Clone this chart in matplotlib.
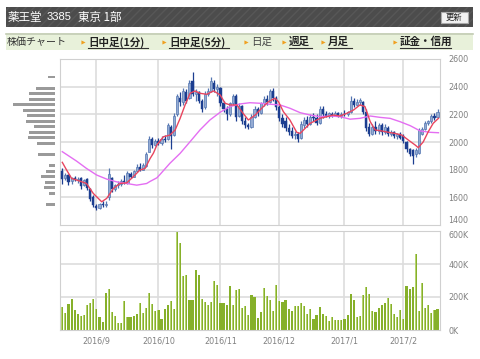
import numpy as np
import matplotlib
matplotlib.use('Agg')
import matplotlib.pyplot as plt
from matplotlib.patches import Rectangle

plt.rcParams['font.family'] = ['Noto Sans CJK JP', 'DejaVu Sans']

# --- daily candles (2016/8/17 .. 2017/2/16) ---
opens = [1790, 1740, 1760, 1715, 1740, 1725, 1740, 1690, 1730, 1660, 1600,
         1540, 1525, 1555, 1545, 1600, 1740, 1660, 1690, 1700, 1720, 1705, 1770, 1750, 1790, 1820, 1800, 1830, 1930, 2020, 1980,
         2005, 1990, 2025, 2020, 2110, 2050, 2200, 2320, 2290, 2360, 2320, 2440, 2350, 2360, 2300, 2250, 2350, 2370, 2430, 2380,
         2390, 2280, 2240, 2200, 2280, 2330, 2190, 2260, 2150, 2120, 2110, 2180, 2240, 2210, 2280, 2310, 2290, 2370, 2320,
         2250, 2170, 2150, 2100, 2080, 2050, 2060, 2030, 2120, 2160, 2130, 2180, 2170, 2140, 2240, 2200, 2190, 2205, 2190, 2210, 2190,
         2205, 2200, 2220, 2300, 2270, 2290, 2290, 2220, 2110, 2060, 2110, 2080, 2120, 2070, 2100, 2060, 2070, 2045, 2055,
         2040, 2000, 1950, 1940, 1910, 1920, 2060, 2095, 2140, 2150, 2185, 2180]
highs = [1810, 1775, 1770, 1750, 1755, 1745, 1750, 1735, 1740, 1670, 1615,
         1555, 1560, 1575, 1570, 1815, 1750, 1700, 1720, 1730, 1760, 1790, 1785, 1800, 1840, 1845, 1850, 1930, 2040, 2035, 2020,
         2030, 2040, 2050, 2140, 2120, 2210, 2350, 2360, 2390, 2380, 2450, 2505, 2380, 2370, 2310, 2370, 2390, 2470, 2450, 2420,
         2400, 2300, 2260, 2290, 2350, 2345, 2280, 2270, 2180, 2140, 2200, 2260, 2250, 2290, 2330, 2340, 2385, 2390, 2330,
         2270, 2200, 2180, 2130, 2110, 2080, 2070, 2150, 2180, 2190, 2200, 2210, 2200, 2260, 2260, 2225, 2220, 2215, 2225, 2220, 2215,
         2230, 2225, 2330, 2320, 2310, 2315, 2300, 2240, 2140, 2130, 2150, 2140, 2135, 2130, 2115, 2085, 2080, 2065, 2070,
         2060, 2010, 1960, 1950, 1960, 2100, 2105, 2150, 2160, 2200, 2210, 2235]
lows = [1700, 1725, 1690, 1700, 1715, 1705, 1660, 1680, 1650, 1570, 1530,
        1505, 1515, 1530, 1530, 1580, 1640, 1645, 1670, 1680, 1700, 1700, 1740, 1745, 1780, 1790, 1795, 1820, 1925, 1960, 1970,
        1975, 1980, 2000, 2015, 1950, 2040, 2190, 2260, 2270, 2280, 2310, 2330, 2300, 2280, 2220, 2240, 2330, 2360, 2360, 2330,
        2260, 2220, 2160, 2190, 2270, 2150, 2180, 2130, 2100, 2095, 2100, 2170, 2190, 2200, 2260, 2270, 2280, 2300, 2230,
        2150, 2110, 2080, 2050, 2030, 2020, 2000, 2020, 2100, 2110, 2120, 2150, 2120, 2130, 2170, 2180, 2175, 2180, 2185, 2180, 2175,
        2190, 2190, 2210, 2250, 2260, 2270, 2200, 2080, 2040, 2050, 2060, 2060, 2050, 2060, 2040, 2040, 2030, 2025, 2020,
        1990, 1930, 1900, 1840, 1890, 1910, 2050, 2085, 2120, 2140, 2160, 2170]
closes = [1730, 1765, 1710, 1740, 1725, 1735, 1680, 1725, 1670, 1590, 1545,
          1520, 1550, 1545, 1545, 1770, 1660, 1690, 1700, 1715, 1710, 1775, 1750, 1790, 1820, 1800, 1835, 1910, 2020, 1975, 2005,
          1990, 2025, 2015, 2120, 2040, 2190, 2330, 2290, 2370, 2300, 2430, 2350, 2360, 2300, 2240, 2350, 2370, 2440, 2380, 2400,
          2280, 2240, 2200, 2280, 2330, 2180, 2260, 2150, 2120, 2110, 2180, 2240, 2210, 2280, 2310, 2290, 2370, 2320, 2250,
          2170, 2130, 2100, 2070, 2040, 2060, 2020, 2130, 2160, 2130, 2180, 2170, 2140, 2240, 2200, 2190, 2210, 2190, 2210, 2190, 2205,
          2200, 2215, 2300, 2270, 2290, 2300, 2220, 2100, 2060, 2110, 2080, 2120, 2070, 2110, 2060, 2070, 2045, 2055, 2030,
          2005, 1950, 1915, 1900, 1945, 2090, 2095, 2140, 2150, 2190, 2175, 2220]

# volume in thousands of shares
volumes = [137, 103, 157, 185, 121, 99, 87, 93, 151, 165, 189,
           129, 79, 46, 227, 248, 109, 83, 44, 44, 173, 79, 79, 87, 95, 165, 101, 133, 227, 157, 117,
           121, 66, 129, 153, 177, 129, 596, 525, 328, 332, 181, 181, 364, 336, 187, 169, 149, 169, 298, 274,
           165, 165, 153, 266, 153, 244, 250, 135, 145, 89, 215, 203, 72, 109, 254, 207, 181, 117, 270,
           175, 167, 181, 129, 113, 147, 143, 163, 147, 97, 127, 66, 89, 139, 97, 83, 54, 79, 62, 58, 58,
           66, 93, 219, 179, 81, 83, 213, 258, 219, 117, 109, 133, 153, 165, 193, 159, 97, 81, 121,
           68, 266, 250, 262, 459, 117, 282, 133, 153, 105, 121, 129]

month_idx = [11, 31, 51, 70, 91, 110]
month_labels = ['2016/9', '2016/10', '2016/11', '2016/12', '2017/1', '2017/2']

# moving averages, sampled along the drawn lines
ma_short_x = [0, 1.4, 3, 5.7, 7.8, 10, 12.7, 14.3, 16.5, 18.6, 20.8, 22.9, 25, 26.7, 28.3, 29.4, 30.5, 32.6,
              34.7, 36.4, 38, 39.6, 41.2, 42.8, 44.4, 46.6, 48.8, 50.9, 52.5, 54.1, 56.3, 57.9, 60, 62.2,
              64.3, 66.5, 68.6, 69.7, 71.3, 73.4, 75.6, 76.7, 77.7, 78.8, 79.9, 81, 83.1, 85.3, 87.4, 89.6,
              91.7, 93.9, 96, 97.6, 99.3, 100.9, 103, 105.2, 107.3, 109.5, 111.6, 113.8, 114.8, 116.4, 118,
              119.6, 121.3]
ma_short = [1853, 1797, 1737, 1717, 1700, 1628, 1568, 1592, 1665, 1700, 1705, 1749, 1797, 1809, 1880, 1920,
            1978, 2038, 2050, 2087, 2171, 2268, 2352, 2369, 2352, 2345, 2369, 2340, 2280, 2268, 2268, 2219,
            2159, 2195, 2244, 2292, 2316, 2292, 2219, 2159, 2070, 2062, 2085, 2110, 2135, 2147, 2171, 2183,
            2195, 2188, 2207, 2231, 2268, 2256, 2147, 2087, 2080, 2070, 2062, 2050, 2014, 1978, 1959, 2001,
            2074, 2135, 2171]
ma_long_x = [0, 4.6, 7.8, 11.1, 14.3, 17.5, 20.8, 24, 27.2, 28.3, 30.5, 31.5, 34.7, 38, 41.2, 44.4, 47.6,
             50.9, 54.1, 57.3, 60.5, 63.7, 67, 70.2, 73.4, 76.7, 79.9, 83.1, 86.3, 89.6, 92.8, 96, 99.3,
             102.5, 105.7, 108.9, 112.2, 115.4, 118.6, 121.3]
ma_long = [1930, 1862, 1809, 1761, 1732, 1712, 1700, 1688, 1700, 1715, 1741, 1765, 1846, 1918, 2002, 2087,
           2159, 2215, 2256, 2275, 2284, 2280, 2273, 2268, 2244, 2212, 2195, 2183, 2188, 2183, 2165, 2171,
           2188, 2178, 2171, 2147, 2118, 2080, 2070, 2067]

# price-by-volume profile on the left
profile_prices = [2470, 2390, 2350, 2310, 2270, 2230, 2190, 2150, 2110, 2070, 2030, 1990,
                  1910, 1830, 1790, 1750, 1710, 1670, 1630, 1550]
profile_sizes = [6.7, 19.3, 26, 26, 41.7, 31.7, 28.3, 29, 20.7, 25.7, 26.7, 18,
                 16.7, 5.7, 9, 14.3, 9.7, 10.7, 6.3, 9]

W, H = 480, 359
fig = plt.figure(figsize=(W / 100, H / 100), dpi=100)

def px(x0, y0, x1, y1):
    return [x0 / W, 1 - y1 / H, (x1 - x0) / W, (y1 - y0) / H]

# --- header / nav strip ---
bg = fig.add_axes([0, 0, 1, 1])
bg.set_xlim(0, W)
bg.set_ylim(H, 0)
bg.axis('off')
bg.add_patch(Rectangle((6, 7), 467, 20, facecolor='#4c4c4c', edgecolor='none'))
bg.add_patch(Rectangle((6, 7), 467, 20, fill=False, hatch='////', edgecolor='#575757', lw=0))
bg.text(8, 17.5, '薬王堂', color='white', fontsize=8.3, va='center')
bg.text(47, 17.5, '3385', color='white', fontsize=8, va='center', family=['Liberation Sans'])
bg.text(78, 17.5, '東京 1部', color='white', fontsize=8.3, va='center')
bg.add_patch(Rectangle((441, 12), 27, 10.5, facecolor='#f2f2f2', edgecolor='#aaaaaa', lw=0.8))
bg.text(454.5, 17.5, '更新', color='#222222', fontsize=6, ha='center', va='center')

bg.add_patch(Rectangle((6, 33), 467, 17, facecolor='#e8f1da', edgecolor='none'))
bg.plot([6, 473], [33.5, 33.5], color='#c3ccb5', lw=1.2)
bg.text(7, 42, '株価チャート', color='#333333', fontsize=7.2, va='center')
nav = [('日中足(1分)', 88, 148, True), ('日中足(5分)', 169, 229, True), ('日足', 251, 272, False),
       ('週足', 289, 312, True), ('月足', 328, 352, True), ('証金・信用', 400, 451, True)]
for label, x0, x1, link in nav:
    bg.plot([x0 - 5], [42], marker='>', ms=3, color='#f0a020', mec='none')
    bg.text(x0, 42, label, color='#222222' if link else '#444444', fontsize=7.6,
            fontweight='bold' if link else 'normal', va='center')
    if link:
        bg.plot([x0, x1], [48.3, 48.3], color='#333333', lw=0.8)

# --- price chart ---
xlim = (-0.74, 121.8)
grid_c = '#dddddd'
spine_c = '#d0d0d0'
tick_c = '#808080'

ax = fig.add_axes(px(60, 59, 440, 225))
ax.set_xlim(*xlim)
ax.set_ylim(1400, 2600)
for v in [1600, 1800, 2000, 2200, 2400]:
    ax.axhline(v, color=grid_c, lw=1.2, zorder=0)
for m in month_idx:
    ax.axvline(m, color=grid_c, lw=1.2, zorder=0)

idx = np.arange(len(closes))
o = np.array(opens); c = np.array(closes)
up = c >= o
dark, light, light_edge = '#1c3e90', '#94abd3', '#5577b2'
wick_colors = [light_edge if u else dark for u in up]
ax.vlines(idx, lows, highs, colors=wick_colors, lw=0.9, zorder=2)
bottoms = np.minimum(o, c)
heights = np.maximum(np.abs(c - o), 6)
ax.bar(idx[up], heights[up], bottom=bottoms[up], width=0.7, color=light,
       edgecolor=light_edge, lw=0.5, zorder=3)
ax.bar(idx[~up], heights[~up], bottom=bottoms[~up], width=0.7, color=dark,
       edgecolor=dark, lw=0.3, zorder=3)

ax.plot(ma_long_x, ma_long, color='#e46ef2', lw=1.0, zorder=4)
ax.plot(ma_short_x, ma_short, color='#e8455e', lw=1.0, zorder=4)

ax.yaxis.tick_right()
ax.set_yticks([1400, 1600, 1800, 2000, 2200, 2400, 2600])
ax.tick_params(axis='y', length=0, pad=6, labelsize=5.8, labelcolor=tick_c)
ax.set_xticks([])
for s in ax.spines.values():
    s.set_color(spine_c)

# --- volume profile ---
pv = fig.add_axes(px(0, 59, 56, 225))
pv.set_ylim(1400, 2600)
pv.set_xlim(56, 0)
pv.barh(profile_prices, profile_sizes, height=21, left=1, color='#9a9a9a')
pv.axis('off')

# --- volume chart ---
av = fig.add_axes(px(60, 231, 440, 330))
av.set_xlim(*xlim)
av.set_ylim(0, 600)
for v in [200, 400]:
    av.axhline(v, color=grid_c, lw=1.2, zorder=0)
for m in month_idx:
    av.axvline(m, color=grid_c, lw=1.2, zorder=0)
av.bar(idx, volumes, width=0.7, color='#86b02a', edgecolor='none', zorder=2)
av.bar(idx - 0.2, volumes, width=0.2, color='#b5d270', edgecolor='none', zorder=3)
av.yaxis.tick_right()
av.set_yticks([0, 200, 400, 600])
av.set_yticklabels(['0K', '200K', '400K', '600K'])
av.tick_params(axis='y', length=0, pad=6, labelsize=5.8, labelcolor=tick_c)
av.set_xticks(month_idx)
av.set_xticklabels(month_labels)
av.tick_params(axis='x', length=0, pad=5, labelsize=5.8, labelcolor=tick_c)
for s in av.spines.values():
    s.set_color(spine_c)
for t in ax.get_yticklabels() + av.get_yticklabels() + av.get_xticklabels():
    t.set_family(['DejaVu Sans'])
# keep "1400" and "600K" from colliding where the two panels meet
ax.get_yticklabels()[0].set_verticalalignment('bottom')
av.get_yticklabels()[-1].set_verticalalignment('top')

fig.savefig('out.png', dpi=100)
